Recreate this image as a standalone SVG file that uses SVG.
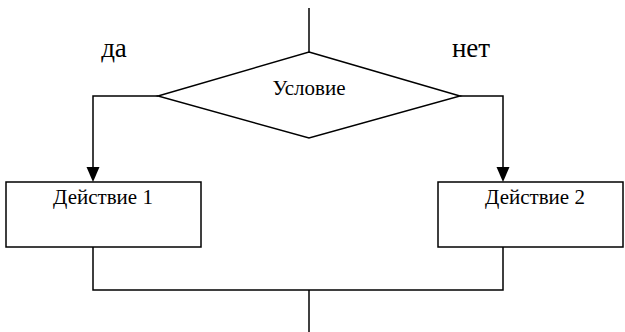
<svg xmlns="http://www.w3.org/2000/svg" width="625" height="332" viewBox="0 0 625 332">
  <style>
    .shape { fill: #ffffff; stroke: #000000; stroke-width: 1.5; }
    .line { fill: none; stroke: #000000; stroke-width: 1.5; }
    .label { font-family: 'Liberation Serif', 'DejaVu Serif', serif; fill: #000000; text-anchor: middle; }
    .node-text { font-size: 21px; }
    .branch-text { font-size: 27px; }
  </style>
  <rect width="625" height="332" fill="#ffffff"/>

  <g id="connectors">
    <path class="line" d="M309,8 L309,52"/>
    <path class="line" d="M158,96 L93,96 L93,167"/>
    <polygon points="86.5,167 99.5,167 93,182" fill="#000000"/>
    <path class="line" d="M460,96 L503,96 L503,167"/>
    <polygon points="496.5,167 509.5,167 503,182" fill="#000000"/>
    <path class="line" d="M93,247 L93,290 L503,290 L503,247"/>
    <path class="line" d="M309,290 L309,332"/>
  </g>

  <g id="condition">
    <polygon class="shape" points="309,52 460,96 309,138 158,96"/>
    <text class="label node-text" x="309" y="95">Условие</text>
  </g>

  <g id="label-yes">
    <text class="label branch-text" x="114" y="57">да</text>
  </g>

  <g id="label-no">
    <text class="label branch-text" x="471" y="57">нет</text>
  </g>

  <g id="action-1">
    <rect class="shape" x="6" y="182" width="195" height="65"/>
    <text class="label node-text" x="103" y="204">Действие 1</text>
  </g>

  <g id="action-2">
    <rect class="shape" x="438" y="182" width="185" height="65"/>
    <text class="label node-text" x="535" y="204">Действие 2</text>
  </g>
</svg>
